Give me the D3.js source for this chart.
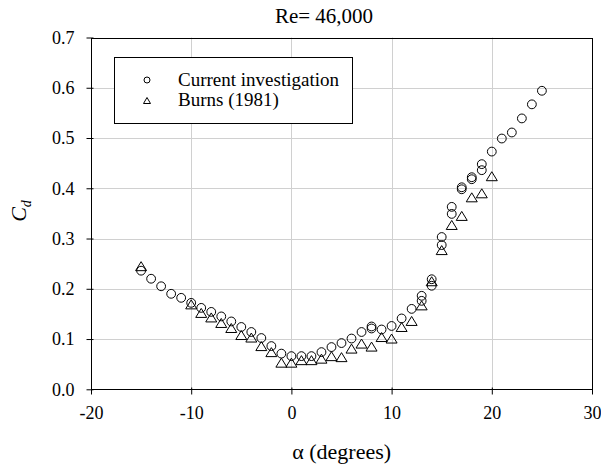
<!DOCTYPE html>
<html>
<head>
<meta charset="utf-8">
<script src="https://cdn.jsdelivr.net/npm/d3@7"></script>
<style>
  html, body { margin: 0; padding: 0; background: #fff; }
  svg text { font-family: 'Liberation Serif', 'Times New Roman', Times, 'DejaVu Serif', serif; }
</style>
</head>
<body>
<svg id="chart" width="601" height="470"></svg>
<script>
// ---- data ----
const alphaCurrent = [-15,-14,-13,-12,-11,-10,-9,-8,-7,-6,-5,-4,-3,-2,-1,0,1,2,3,4,5,6,7,8,8,9,10,11,12,13,13,14,14,15,15,16,16,17,17,18,18,19,19,20,21,22,23,24,25];
const cdCurrent    = [0.236,0.220,0.205,0.190,0.182,0.172,0.162,0.154,0.145,0.135,0.124,0.114,0.102,0.086,0.071,0.066,0.066,0.066,0.074,0.084,0.092,0.101,0.114,0.121,0.125,0.119,0.126,0.141,0.160,0.186,0.176,0.219,0.206,0.303,0.287,0.363,0.349,0.402,0.398,0.422,0.418,0.448,0.436,0.473,0.499,0.511,0.539,0.567,0.594];
const alphaBurns = [-15,-10,-9,-8,-7,-6,-5,-4,-3,-2,-1,0,1,2,3,4,5,6,7,8,9,10,11,12,13,14,15,16,17,18,19,20];
const cdBurns    = [0.245,0.169,0.152,0.143,0.132,0.122,0.108,0.103,0.086,0.074,0.053,0.053,0.058,0.058,0.061,0.066,0.064,0.081,0.091,0.085,0.104,0.101,0.124,0.136,0.167,0.215,0.277,0.327,0.345,0.382,0.390,0.424];
const xTicks = [-20,-10,0,10,20,30];
const yTicks = [0,0.1,0.2,0.3,0.4,0.5,0.6,0.7];
const titleText = "Re= 46,000";
const legendLabels = ["Current investigation", "Burns (1981)"];

// ---- layout ----
const svg = d3.select("#chart");
const L = 91, R = 592, T = 37.5, B = 389.3;
const x = d3.scaleLinear().domain([-20, 30]).range([L, R]);
const y = d3.scaleLinear().domain([0, 0.7]).range([B, T]);

// gridlines
svg.append("g").selectAll("line").data(xTicks.filter(d => d > -20 && d < 30)).join("line")
  .attr("x1", d => Math.round(x(d)) + 0.5).attr("x2", d => Math.round(x(d)) + 0.5)
  .attr("y1", T).attr("y2", B).attr("stroke", "#d0d0d0").attr("stroke-width", 1);
svg.append("g").selectAll("line").data(yTicks.filter(d => d > 0 && d < 0.7)).join("line")
  .attr("x1", L).attr("x2", R)
  .attr("y1", d => Math.round(y(d)) + 0.5).attr("y2", d => Math.round(y(d)) + 0.5)
  .attr("stroke", "#d0d0d0").attr("stroke-width", 1);

// frame
svg.append("rect").attr("x", L + 0.5).attr("y", Math.round(T) + 0.5)
  .attr("width", R - L).attr("height", Math.round(B) - Math.round(T))
  .attr("fill", "none").attr("stroke", "#000").attr("stroke-width", 1);

// axes
const xAxis = svg.append("g").attr("transform", `translate(0,${Math.round(B) + 0.5})`)
  .call(d3.axisBottom(x).tickValues(xTicks).tickSize(5).tickSizeOuter(0).tickPadding(12).tickFormat(d => String(d)));
const yAxis = svg.append("g").attr("transform", `translate(${L + 0.5},0)`)
  .call(d3.axisLeft(y).tickValues(yTicks).tickSize(5).tickSizeOuter(0).tickPadding(12).tickFormat(d => d.toFixed(1)));
[xAxis, yAxis].forEach(a => {
  a.attr("font-family", null).attr("font-size", null);
  a.select(".domain").remove();
  a.selectAll("text").attr("font-size", 18).attr("fill", "#000");
  a.selectAll(".tick line").attr("stroke", "#000");
});
xAxis.selectAll(".tick line").attr("y1", -2);
yAxis.selectAll(".tick line").attr("x1", 2);

// markers
const triPath = (s, h) => `M0,${-h/2}L${s/2},${h/2}L${-s/2},${h/2}Z`;
const burns = alphaBurns.map((a, i) => ({a, c: cdBurns[i]}));
const cur = alphaCurrent.map((a, i) => ({a, c: cdCurrent[i]}));
svg.append("g").selectAll("path").data(burns).join("path")
  .attr("d", triPath(11, 9))
  .attr("transform", d => `translate(${x(d.a)},${y(d.c)})`)
  .attr("fill", "none").attr("stroke", "#000").attr("stroke-width", 1);
svg.append("g").selectAll("circle").data(cur).join("circle")
  .attr("cx", d => x(d.a)).attr("cy", d => y(d.c)).attr("r", 4.4)
  .attr("fill", "none").attr("stroke", "#000").attr("stroke-width", 1);

// title
svg.append("text").attr("x", 324).attr("y", 22.7).attr("text-anchor", "middle")
  .attr("font-size", 21).text(titleText);

// legend
svg.append("rect").attr("x", 114.5).attr("y", 57.5).attr("width", 238).attr("height", 66)
  .attr("fill", "#fff").attr("stroke", "#000").attr("stroke-width", 1);
svg.append("circle").attr("cx", 147).attr("cy", 80).attr("r", 3)
  .attr("fill", "none").attr("stroke", "#000");
svg.append("path").attr("d", triPath(7, 6)).attr("transform", "translate(147,100.5)")
  .attr("fill", "none").attr("stroke", "#000");
svg.append("text").attr("x", 178).attr("y", 86).attr("font-size", 19).text(legendLabels[0]);
svg.append("text").attr("x", 178).attr("y", 106).attr("font-size", 19).text(legendLabels[1]);

// axis titles
svg.append("text").attr("x", 341.7).attr("y", 459).attr("text-anchor", "middle")
  .attr("font-size", 22).text("α (degrees)");
const yl = svg.append("text").attr("transform", "translate(26,211) rotate(-90)")
  .attr("text-anchor", "middle").attr("font-size", 22);
yl.append("tspan").attr("font-style", "italic").text("C");
yl.append("tspan").attr("font-style", "italic").attr("font-size", 14).attr("dy", 5).text("d");
</script>
</body>
</html>
